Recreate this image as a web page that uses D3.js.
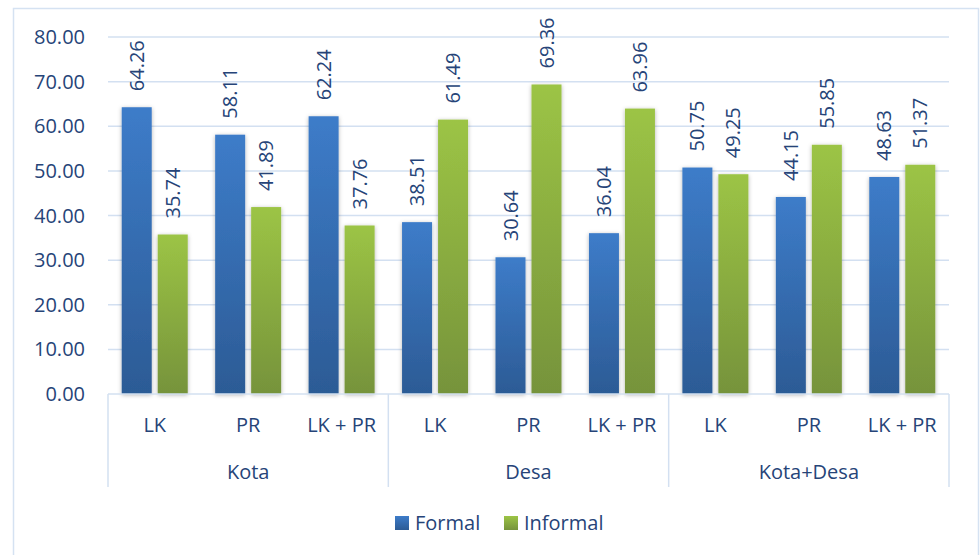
<!DOCTYPE html>
<html>
<head>
<meta charset="utf-8">
<script src="https://d3js.org/d3.v7.min.js"></script>
<style>
  body { margin: 0; background: #fff; }
  text { font-family: "Open Sans", "Noto Sans", sans-serif; fill: #264478; }
</style>
</head>
<body>
<div id="graph"></div>
<script>
// chart data
var groups = ["Kota", "Desa", "Kota+Desa"];
var subs = ["LK", "PR", "LK + PR"];
var series = ["Formal", "Informal"];
var formal = [64.26, 58.11, 62.24, 38.51, 30.64, 36.04, 50.75, 44.15, 48.63];
var informal = [35.74, 41.89, 37.76, 61.49, 69.36, 63.96, 49.25, 55.85, 51.37];
var yTicks = [0, 10, 20, 30, 40, 50, 60, 70, 80];

const fullwidth = 980;
const fullheight = 555;
const plotLeft = 108, plotRight = 949, plotTop = 37, plotBottom = 394;

// one entry per bar pair
var rows = [];
groups.forEach(function(g, gi) {
  subs.forEach(function(s, si) {
    var i = gi * subs.length + si;
    rows.push({key: g + "|" + s, group: g, sub: s, values: [formal[i], informal[i]]});
  });
});

var x0 = d3.scaleBand()
  .domain(rows.map(d => d.key))
  .range([plotLeft, plotRight]);

var x1 = d3.scaleBand()
  .domain(series)
  .range([(x0.bandwidth() - 66) / 2, (x0.bandwidth() + 66) / 2])
  .paddingInner(1 / 6);

var y = d3.scaleLinear()
  .domain([0, 80])
  .range([plotBottom, plotTop]);

var svg = d3.select("#graph").append("svg")
  .attr("width", fullwidth)
  .attr("height", fullheight);

// gradients for bars
var defs = svg.append("defs");
var grads = {Formal: ["#3d7cc9", "#2c5b95"], Informal: ["#9cc445", "#76933b"]};
series.forEach(function(s) {
  var lg = defs.append("linearGradient")
    .attr("id", "grad-" + s)
    .attr("x1", 0).attr("y1", 0).attr("x2", 0).attr("y2", 1);
  lg.append("stop").attr("offset", "0%").attr("stop-color", grads[s][0]);
  lg.append("stop").attr("offset", "100%").attr("stop-color", grads[s][1]);
});
var shadow = defs.append("filter").attr("id", "shadow")
  .attr("x", "-30%").attr("y", "-10%").attr("width", "160%").attr("height", "120%");
shadow.append("feDropShadow")
  .attr("dx", 0).attr("dy", 1).attr("stdDeviation", 2)
  .attr("flood-color", "#000").attr("flood-opacity", 0.3);

// outer border
svg.append("rect")
  .attr("x", 13.5).attr("y", 8.5)
  .attr("width", 965).attr("height", 560)
  .attr("fill", "none")
  .attr("stroke", "#d5e2f2")
  .attr("stroke-width", 1.5);

// gridlines
svg.append("g")
  .selectAll("line")
  .data(yTicks.slice(1))
  .enter().append("line")
    .attr("x1", plotLeft).attr("x2", plotRight)
    .attr("y1", d => y(d)).attr("y2", d => y(d))
    .attr("stroke", "#d3e0f1")
    .attr("stroke-width", 1.5);

// y axis labels
svg.append("g")
  .selectAll("text")
  .data(yTicks)
  .enter().append("text")
    .attr("x", 85)
    .attr("y", d => y(d))
    .attr("dy", "0.35em")
    .attr("text-anchor", "end")
    .attr("font-size", 20)
    .text(d => d3.format(".2f")(d));

// bars
var cat = svg.append("g")
  .selectAll("g")
  .data(rows)
  .enter().append("g")
    .attr("transform", d => "translate(" + x0(d.key) + ",0)");

cat.selectAll("rect")
  .data(d => d.values.map((v, i) => ({s: series[i], v: v})))
  .enter().append("rect")
    .attr("x", d => x1(d.s))
    .attr("y", d => y(d.v))
    .attr("width", x1.bandwidth())
    .attr("height", d => y(0) - y(d.v))
    .attr("fill", d => "url(#grad-" + d.s + ")")
    .attr("filter", "url(#shadow)");

// value labels, rotated
cat.selectAll("text")
  .data(d => d.values.map((v, i) => ({s: series[i], v: v})))
  .enter().append("text")
    .attr("transform", d => "translate(" + (x1(d.s) + x1.bandwidth() / 2) + "," + (y(d.v) - 16) + ") rotate(-90)")
    .attr("dy", "0.35em")
    .attr("font-size", 20)
    .text(d => d3.format(".2f")(d.v));

// x axis line
svg.append("line")
  .attr("x1", plotLeft).attr("x2", plotRight)
  .attr("y1", plotBottom).attr("y2", plotBottom)
  .attr("stroke", "#d3e0f1")
  .attr("stroke-width", 1.5);

// sub category labels
svg.append("g")
  .selectAll("text")
  .data(rows)
  .enter().append("text")
    .attr("x", d => x0(d.key) + x0.bandwidth() / 2)
    .attr("y", 425)
    .attr("dy", "0.35em")
    .attr("text-anchor", "middle")
    .attr("font-size", 20)
    .text(d => d.sub);

// group separators
var seps = groups.map(g => x0(g + "|" + subs[0])).concat([plotRight]);
svg.append("g")
  .selectAll("line")
  .data(seps)
  .enter().append("line")
    .attr("x1", d => d).attr("x2", d => d)
    .attr("y1", plotBottom).attr("y2", 487)
    .attr("stroke", "#d3e0f1")
    .attr("stroke-width", 1.5);

// group labels
svg.append("g")
  .selectAll("text")
  .data(groups)
  .enter().append("text")
    .attr("x", (d, i) => (seps[i] + seps[i + 1]) / 2)
    .attr("y", 472)
    .attr("dy", "0.35em")
    .attr("text-anchor", "middle")
    .attr("font-size", 20)
    .text(d => d);

// legend
var legX = [395, 504];
var legend = svg.append("g")
  .selectAll("g")
  .data(series)
  .enter().append("g")
    .attr("transform", (d, i) => "translate(" + legX[i] + ",516)");
legend.append("rect")
  .attr("width", 14).attr("height", 14)
  .attr("fill", d => "url(#grad-" + d + ")");
legend.append("text")
  .attr("x", 20).attr("y", 7)
  .attr("dy", "0.35em")
  .attr("font-size", 20)
  .text(d => d);
</script>
</body>
</html>
